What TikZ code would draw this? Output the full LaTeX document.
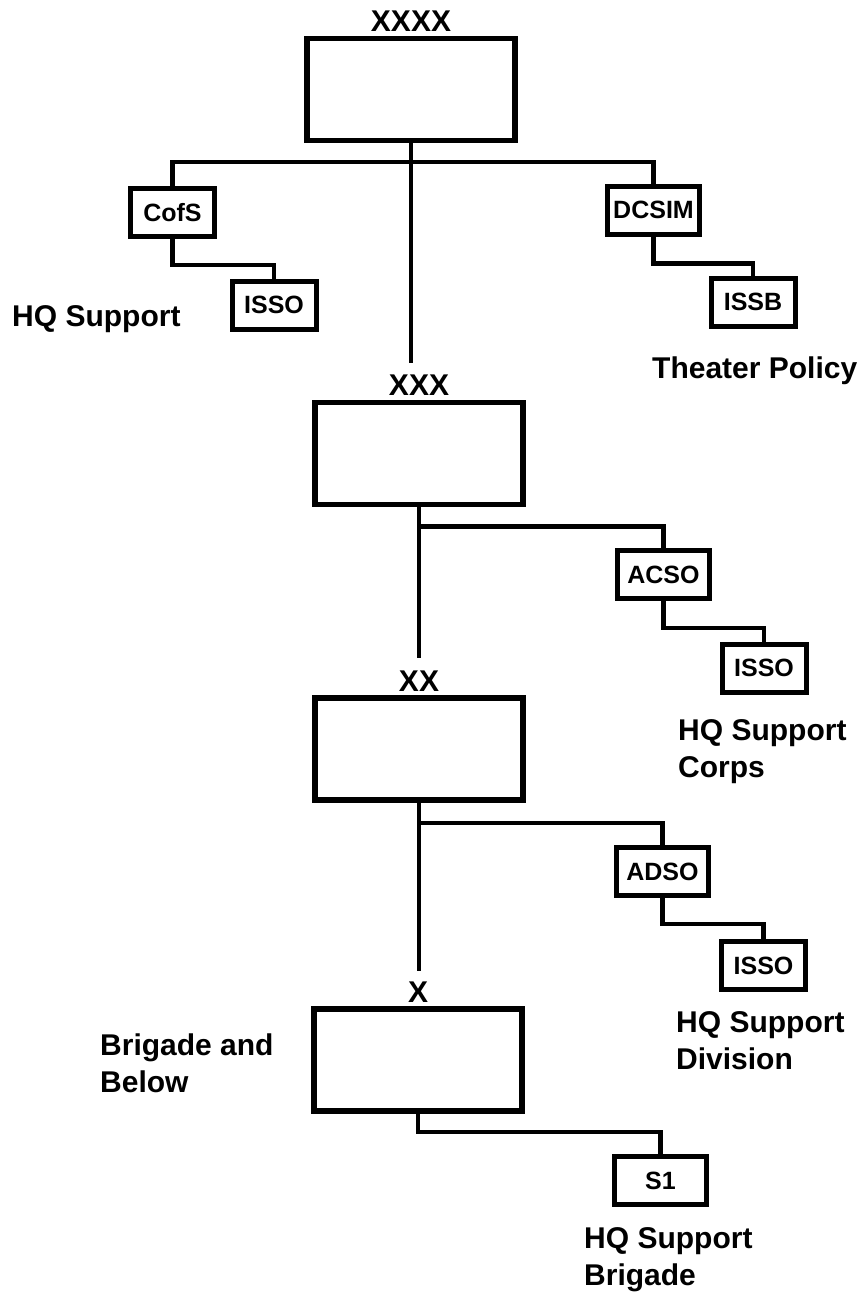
\documentclass[tikz,border=0pt]{standalone}
\usepackage{fontspec}
\setmainfont{Liberation Sans}
\usetikzlibrary{positioning}

\begin{document}
\begin{tikzpicture}[x=1pt,y=-1pt,
		echelon/.style={draw, line width=5.5pt, minimum width=208pt, minimum height=102pt},
		staff/.style={draw, line width=5pt, minimum width=84pt, minimum height=48pt, inner sep=0pt, font=\fontsize{25}{30}\selectfont\bfseries},
		wide/.style={staff, minimum width=92pt},
		rank/.style={inner sep=0pt, font=\fontsize{30}{36}\selectfont\bfseries},
		note/.style={inner sep=0pt, align=left, font=\fontsize{30}{37}\selectfont\bfseries},
		link/.style={line width=4.5pt}]
				\useasboundingbox (0,0) rectangle (865,1295);
				
				% echelons
				\node[echelon] (army) at (411,89.5) {};
				\node[rank, above=4pt of army] (armyl) {XXXX};
				\node[echelon] (corps) at (419,453.5) {};
				\node[rank, above=4pt of corps] (corpsl) {XXX};
				\node[echelon] (division) at (419,749) {};
				\node[rank, above=4pt of division] (divisionl) {XX};
				\node[echelon] (brigade) at (418,1060) {};
				\node[rank, above=4pt of brigade] (brigadel) {X};
				
				% staff boxes
				\node[staff] (cofs) at (172.5,212.5) {CofS};
				\node[staff] (issoa) at (274,305) {ISSO};
				\node[wide] (dcsim) at (653.5,210) {DCSIM};
				\node[staff] (issb) at (753,302) {ISSB};
				\node[wide] (acso) at (663.5,574.5) {ACSO};
				\node[staff] (issoc) at (764,668) {ISSO};
				\node[wide] (adso) at (662.5,871.5) {ADSO};
				\node[staff] (issod) at (763.5,965.5) {ISSO};
				\node[wide] (sone) at (660.5,1180.5) {S1};
				
				% notes
				\node[note, anchor=base west] (hqsupport) at (12,326) {HQ Support};
				\node[note, anchor=base west] (theater) at (652,378) {Theater Policy};
				\node[note, anchor=north west] (hqcorps) at (678,719) {HQ Support\\Corps};
				\node[note, anchor=north west] (hqdivision) at (676,1011) {HQ Support\\Division};
				\node[note, anchor=north west] (below) at (100,1034) {Brigade and\\Below};
				\node[note, anchor=north west] (hqbrigade) at (584,1227) {HQ Support\\Brigade};
				
				% chain of command
				\coordinate (bar) at (411,162);
				\draw[link, shorten >=12pt] (army.south) -- (army.south |- corpsl.north);
				\draw[link] (cofs.north) |- (bar) -| (dcsim.north);
				\draw[link] (cofs.south) -- ++(0,26) -| (issoa.north);
				\draw[link] (dcsim.south) -- ++(0,27) -| (issb.north);
				
				\draw[link, shorten >=12pt] (corps.south) -- (corps.south |- divisionl.north);
				\draw[link] (corps.south) ++(0,19) -| (acso.north);
				\draw[link] (acso.south) -- ++(0,27) -| (issoc.north);
				
				\draw[link, shorten >=10pt] (division.south) -- (division.south |- brigadel.north);
				\draw[link] (division.south) ++(0,20) -| (adso.north);
				\draw[link] (adso.south) -- ++(0,26) -| (issod.north);
				
				\draw[link] (brigade.south) -- ++(0,18) -| (sone.north);
			\end{tikzpicture}
\end{document}
